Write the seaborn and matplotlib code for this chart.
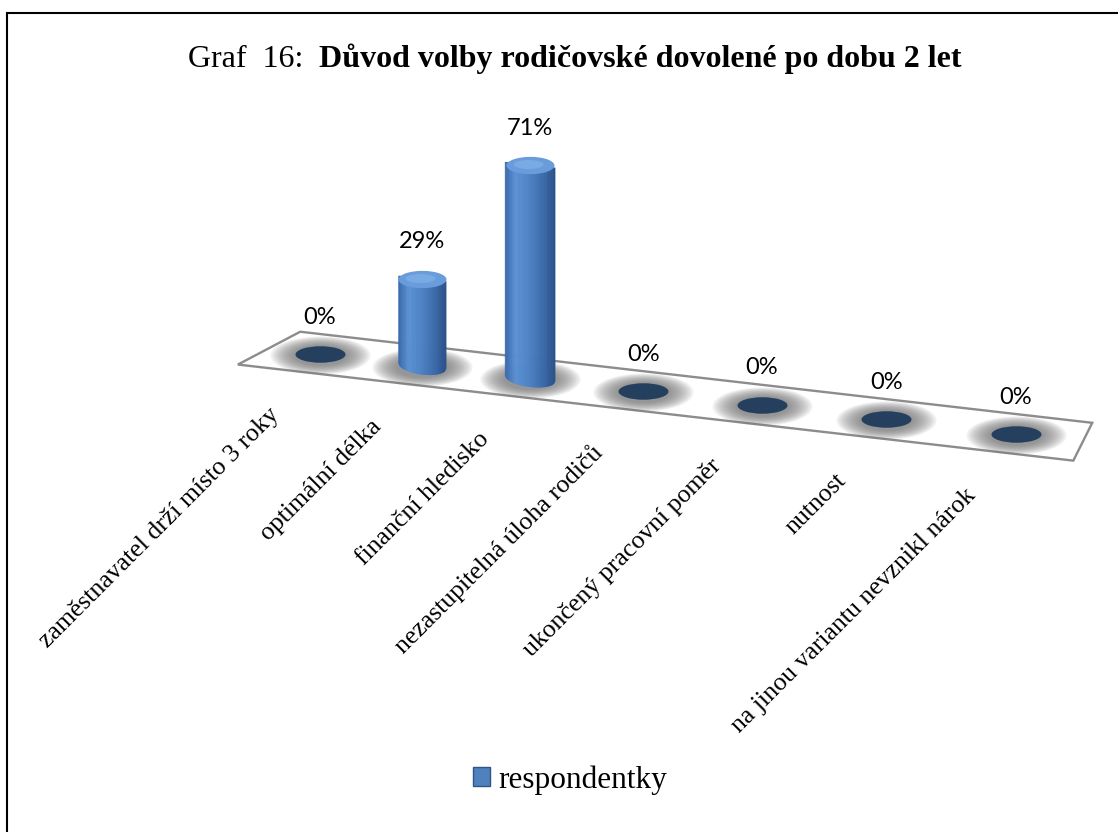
import numpy as np
import pandas as pd
import matplotlib
matplotlib.use("Agg")
import matplotlib.pyplot as plt
import seaborn as sns
from matplotlib.transforms import Affine2D
from matplotlib.path import Path
from matplotlib.patches import Polygon, Rectangle, Patch
from matplotlib.collections import PolyCollection
from matplotlib.colors import LinearSegmentedColormap

# ---------------- data ----------------
categories = [
    "zaměstnavatel drží místo 3 roky",
    "optimální délka",
    "finanční hledisko",
    "nezastupitelná úloha rodičů",
    "ukončený pracovní poměr",
    "nutnost",
    "na jinou variantu nevznikl nárok",
]
values = [0, 29, 71, 0, 0, 0, 0]
value_labels = [f"{v}%" for v in values]
series_name = "respondentky"
title_prefix = "Graf  16:  "
title_main = "Důvod volby rodičovské dovolené po dobu 2 let"

# ---------------- layout ----------------
FIG_W, FIG_H, DPI = 1118, 832, 100
sns.set_theme(style="white")
plt.rcParams["font.family"] = ["Liberation Serif", "DejaVu Serif"]
plt.rcParams["text.color"] = "black"

fig = plt.figure(figsize=(FIG_W / DPI, FIG_H / DPI), dpi=DPI)
fig.patch.set_facecolor("white")

PX_PER_UNIT = 99.5      # horizontal pixels per category near the left
CURV = 0.0276           # perspective widening to the right
X0_PX = 320             # pixel x of first category
BASE_PX = FIG_H - 354   # pixel y (display) of floor at first category
PX_PER_PCT = 3.0
YLIM = (-60, 90)
XLIM = (-0.5, 6.5)
SLOPE = 0.115           # floor descends to the right


def fwd(x):
    x = np.asarray(x, dtype=float)
    return x + CURV * x ** 2


def inv(y):
    y = np.asarray(y, dtype=float)
    return (-1 + np.sqrt(np.maximum(1 + 4 * CURV * y, 0))) / (2 * CURV)


left_px = X0_PX + PX_PER_UNIT * float(fwd(XLIM[0]))
right_px = X0_PX + PX_PER_UNIT * float(fwd(XLIM[1]))
bottom_px = BASE_PX + PX_PER_PCT * YLIM[0]
top_px = BASE_PX + PX_PER_PCT * YLIM[1]
ax = fig.add_axes([left_px / FIG_W, bottom_px / FIG_H,
                   (right_px - left_px) / FIG_W, (top_px - bottom_px) / FIG_H])

df = pd.DataFrame({"kategorie": categories, "podil": values})
sns.barplot(data=df, x="kategorie", y="podil", ax=ax, width=0.45,
            color="#4A7EBE", saturation=1, zorder=4)
bars = list(ax.patches)
ax.set_xscale("function", functions=(fwd, inv))
ax.set_xlim(*XLIM)
ax.set_ylim(*YLIM)
ax.axis("off")

shear = (Affine2D().translate(-X0_PX, -BASE_PX)
         .skew(0, -np.arctan(SLOPE)).translate(X0_PX, BASE_PX))
T = ax.transData + shear

# ---------------- floor ----------------
d = 20 / PX_PER_PCT
floor = Polygon([(-0.2, d), (6.57, d), (6.43, -d), (-0.845, -d)], closed=True,
                facecolor="white", edgecolor="#8C8C8C", linewidth=1.7,
                transform=T, zorder=1, clip_on=False)
ax.add_patch(floor)

# ---------------- markers ----------------
circ = Path.unit_circle()


def ellipse_marker(aspect):
    return Path(circ.vertices * np.array([1.0, aspect]), circ.codes)


xs = np.arange(len(categories), dtype=float)
vals = np.array(values, dtype=float)
zeros = np.zeros_like(xs)

# soft shadows
for wpx in np.linspace(100, 54, 12):
    ax.scatter(xs, zeros - 0.4, s=(wpx * 0.72) ** 2, marker=ellipse_marker(0.38),
               color="#6A6A6A", alpha=0.09, linewidths=0, transform=T,
               zorder=2, clip_on=False)

# zero-value discs
zm = vals == 0
ax.scatter(xs[zm], zeros[zm], s=(50 * 0.72) ** 2, marker=ellipse_marker(0.33),
           color="#253F5F", linewidths=0, transform=T, zorder=3, clip_on=False)

# cylinders
cmap = LinearSegmentedColormap.from_list(
    "cyl", [(0, "#3A69AA"), (0.22, "#5B91D4"), (0.5, "#4D82C4"),
            (0.8, "#3A68A7"), (1, "#2B5289")])
e = 8.5 / PX_PER_PCT
N = 36
for p in bars:
    x, w, h = p.get_x(), p.get_width(), p.get_height()
    p.set_visible(False)
    if h <= 0:
        continue
    cx = x + w / 2
    edges = np.linspace(x, x + w, N + 1)
    depth = e * np.sqrt(np.clip(1 - ((edges - cx) / (w / 2)) ** 2, 0, 1))
    polys, cols = [], []
    for j in range(N):
        polys.append([(edges[j], -depth[j]), (edges[j + 1], -depth[j + 1]),
                      (edges[j + 1], h), (edges[j], h)])
        cols.append(cmap((j + 0.5) / N))
    pc = PolyCollection(polys, facecolors=cols, edgecolors=cols, linewidths=0.6,
                        transform=T, zorder=4, clip_on=False)
    ax.add_collection(pc, autolim=False)
    ax.scatter([cx], [h], s=(48 * 0.72) ** 2, marker=ellipse_marker(0.36),
               color="#6A9CDB", linewidths=0, transform=T, zorder=5, clip_on=False)
    ax.scatter([cx - 0.02], [h + 0.3], s=(30 * 0.72) ** 2, marker=ellipse_marker(0.3),
               color="#86B4EA", alpha=0.6, linewidths=0, transform=T, zorder=6,
               clip_on=False)

ax.set_xlim(*XLIM)
ax.set_ylim(*YLIM)

# ---------------- labels ----------------
for i, (v, lab) in enumerate(zip(values, value_labels)):
    ax.annotate(lab, xy=(i, v), xycoords=T, xytext=(0, 37),
                textcoords="offset pixels", ha="center", va="center",
                fontsize=17, family=["Lato", "DejaVu Sans"], color="black",
                annotation_clip=False, zorder=7)

for i, cat in enumerate(categories):
    ax.annotate(cat, xy=(i, 0), xycoords=T, xytext=(-44, -58),
                textcoords="offset pixels", ha="right", va="center",
                rotation=45, rotation_mode="anchor", fontsize=18.5,
                color="black", annotation_clip=False)

# ---------------- legend ----------------
handle = Patch(facecolor="#4F81BD", edgecolor="#2F5587", linewidth=1.0)
fig.legend([handle], [series_name], loc="center",
           bbox_to_anchor=(570 / FIG_W, 1 - 780 / FIG_H), frameon=False,
           fontsize=22.5, handlelength=0.55, handleheight=0.55,
           handletextpad=0.25, labelcolor="black")

# ---------------- title ----------------
renderer = fig.canvas.get_renderer()
ty = 1 - 67 / FIG_H
t1 = fig.text(188 / FIG_W, ty, title_prefix, fontsize=23, va="baseline",
              ha="left", color="black")
bb = t1.get_window_extent(renderer=renderer)
fig.text(bb.x1 / FIG_W, ty, title_main, fontsize=23, fontweight="bold",
         va="baseline", ha="left", color="black")

# ---------------- border ----------------
fig.add_artist(Rectangle((7 / FIG_W, -10 / FIG_H), (1130 - 7) / FIG_W,
                         (FIG_H - 13 + 10) / FIG_H, fill=False, edgecolor="black",
                         linewidth=1.5, transform=fig.transFigure, clip_on=False))

fig.savefig("out.png", dpi=DPI)
